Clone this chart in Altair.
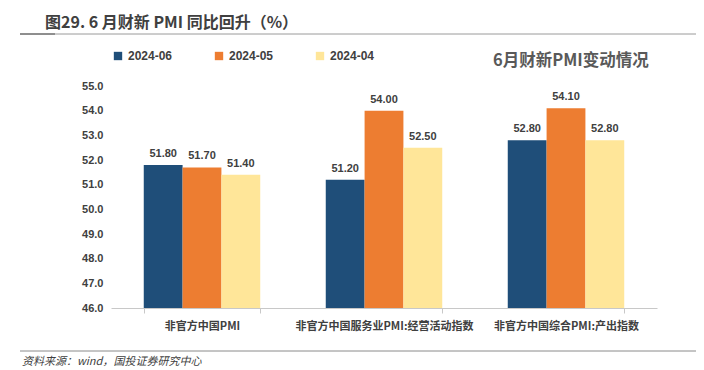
import altair as alt
import pandas as pd

categories = ["非官方中国PMI", "非官方中国服务业PMI:经营活动指数", "非官方中国综合PMI:产出指数"]
series = ["2024-06", "2024-05", "2024-04"]
v_jun = [51.8, 51.2, 52.8]
v_may = [51.7, 54.0, 54.1]
v_apr = [51.4, 52.5, 52.8]
colors = ["#1F4E79", "#ED7D31", "#FFE699"]
y_ticks = [46, 47, 48, 49, 50, 51, 52, 53, 54, 55]

title_text = "图29. 6 月财新 PMI 同比回升（%）"
subtitle_text = "6月财新PMI变动情况"
source_text = "资料来源：wind，国投证券研究中心"

rows = []
for s, vals in zip(series, [v_jun, v_may, v_apr]):
    for c, v in zip(categories, vals):
        rows.append({"category": c, "series": s, "value": v, "base": 46})
df = pd.DataFrame(rows)

FONT = "Liberation Sans, Noto Sans CJK SC, sans-serif"
CJK = "Noto Sans CJK SC, Liberation Sans, sans-serif"

x_axis = alt.Axis(
    title=None, labelAngle=0, labelFont=CJK, labelFontSize=11,
    labelFontWeight="bold", labelColor="#404040", labelPadding=7,
    domainColor="#c8c8c8", tickColor="#c8c8c8", tickSize=5,
    tickBand="extent", labelLimit=300,
)
y_axis = alt.Axis(
    title=None, values=y_ticks, tickCount=10, format=".1f", grid=False, domain=False,
    ticks=False, labelFont=FONT, labelFontSize=11, labelColor="#404040",
    labelPadding=8, labelFontWeight="bold", labelOverlap=False,
)
x_scale = alt.Scale(paddingInner=0.36, paddingOuter=0.18)
xoff = alt.XOffset("series:N", sort=series, scale=alt.Scale(domain=series, paddingInner=0))
y_scale = alt.Scale(domain=[46, 55], zero=False, nice=False)

bars = alt.Chart(df).mark_bar().encode(
    x=alt.X("category:N", sort=categories, scale=x_scale, axis=x_axis),
    xOffset=xoff,
    y=alt.Y("value:Q", scale=y_scale, axis=y_axis),
    y2="base:Q",
    color=alt.Color(
        "series:N",
        scale=alt.Scale(domain=series, range=colors),
        legend=alt.Legend(
            title=None, orient="none", legendX=1, legendY=-36, direction="horizontal",
            symbolType="square", symbolSize=70, symbolStrokeWidth=0,
            labelFont=FONT, labelFontSize=12, labelFontWeight="bold",
            labelColor="#404040", columnPadding=40, labelOffset=4,
        ),
    ),
)

labels = alt.Chart(df).mark_text(
    baseline="bottom", dy=-6, font=FONT, fontSize=11, fontWeight="bold", color="#404040"
).encode(
    x=alt.X("category:N", sort=categories, scale=x_scale, axis=x_axis),
    xOffset=xoff,
    y=alt.Y("value:Q", scale=y_scale, axis=y_axis),
    text=alt.Text("value:Q", format=".2f"),
)

one = pd.DataFrame({"k": [0]})

title = alt.Chart(one).mark_text(
    align="left", baseline="middle", font=CJK, fontSize=16, fontWeight="bold", color="#404040"
).encode(x=alt.value(-66), y=alt.value(-63), text=alt.value(title_text))

subtitle = alt.Chart(one).mark_text(
    align="left", baseline="middle", font=CJK, fontSize=16.5, fontWeight="bold", color="#595959"
).encode(x=alt.value(382), y=alt.value(-25), text=alt.value(subtitle_text))

top_line = alt.Chart(one).mark_rule(color="#9a9a9a", strokeWidth=1).encode(
    x=alt.value(-91), x2=alt.value(586), y=alt.value(-52)
)
top_line_dark = alt.Chart(one).mark_rule(color="#7a7a7a", strokeWidth=1.5).encode(
    x=alt.value(-91), x2=alt.value(-56), y=alt.value(-52)
)
bottom_line = alt.Chart(one).mark_rule(color="#8a8a8a", strokeWidth=1).encode(
    x=alt.value(-91), x2=alt.value(589), y=alt.value(265)
)
source = alt.Chart(one).mark_text(
    align="left", baseline="middle", font=CJK, fontSize=11, fontStyle="italic", color="#404040"
).encode(x=alt.value(-89), y=alt.value(276), text=alt.value(source_text))

chart = alt.layer(
    bars, labels, title, subtitle, top_line, top_line_dark, bottom_line, source
).properties(
    width=546, height=222,
    autosize=alt.AutoSizeParams(type="none"),
    padding={"left": 103, "top": 78, "right": 39, "bottom": 62},
).configure_view(stroke=None)

chart.save("out.html", embed_options={"renderer": "svg", "actions": False})
